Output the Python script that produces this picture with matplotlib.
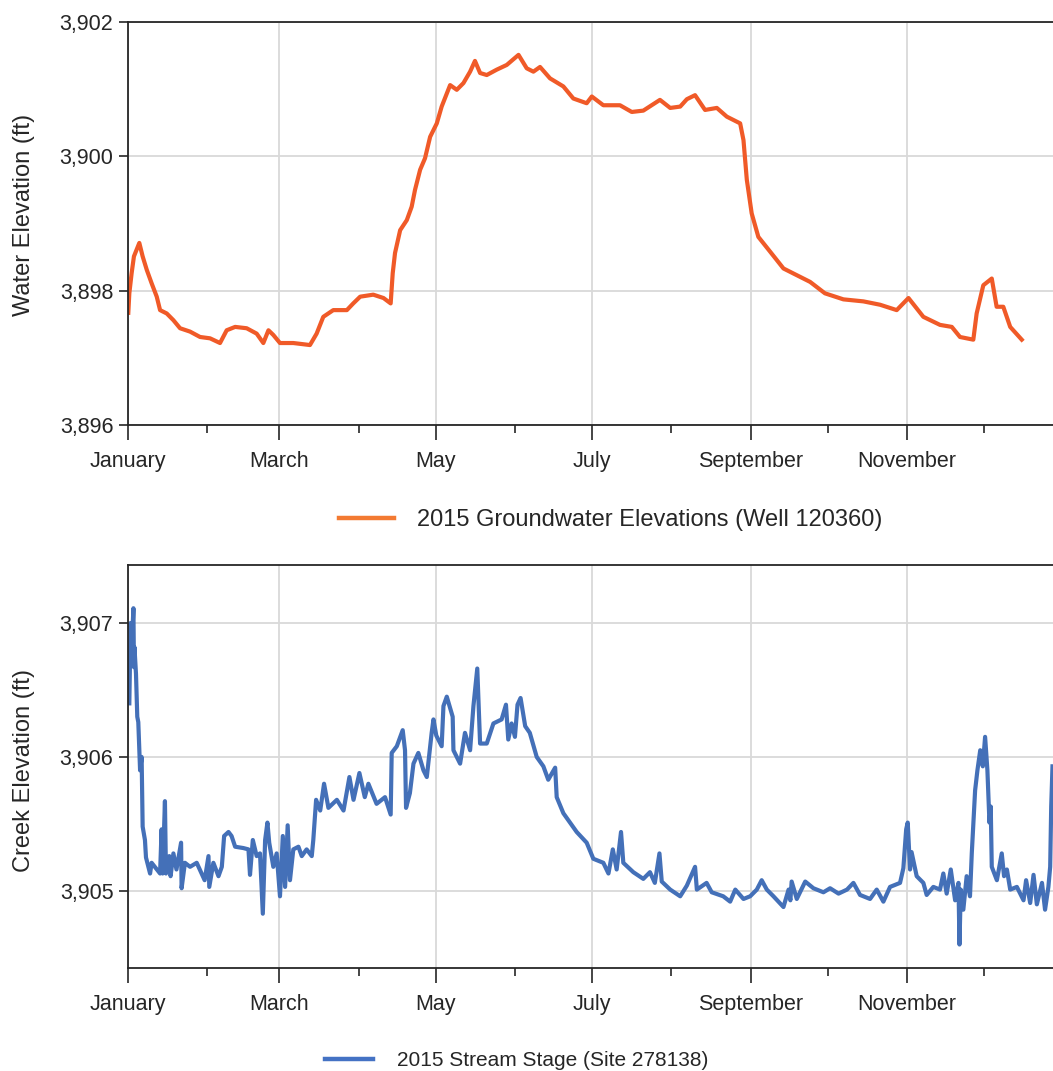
"""
2015 groundwater elevation (well 120360) and stream stage (site 278138)
"""

import numpy as np
from matplotlib import pyplot as plt
import matplotlib.dates as mdates
from matplotlib.ticker import StrMethodFormatter

plt.rcParams['font.family'] = ['Liberation Sans', 'DejaVu Sans']

# --------------------------------------------------------------------------------------------------
# Data (day of year 2015, elevation in ft)
# --------------------------------------------------------------------------------------------------

gw_day = [0.1, 0.5, 1.4, 2.3, 4.4, 5.7, 7.3, 9.2, 11.2, 12.5, 15.1, 17.7, 20.3, 24.2, 28.1, 32.0,
          35.9, 38.5, 41.8, 46.3, 50.2, 52.8, 54.8, 56.7, 59.3, 64.5, 71.0, 73.6, 76.2, 80.1, 85.4,
          87.9, 90.6, 95.7, 99.7, 102.5, 103.3, 104.2, 106.2, 108.8, 110.7, 112.0, 114.0, 115.9,
          117.9, 120.5, 122.4, 125.7, 128.3, 130.9, 133.5, 135.4, 137.4, 140.0, 143.9, 147.8, 152.4,
          155.6, 158.2, 160.8, 164.7, 169.9, 173.8, 179.0, 181.0, 185.5, 192.0, 196.6, 201.1, 207.6,
          211.6, 215.5, 218.1, 221.3, 225.2, 229.8, 233.7, 238.9, 240.2, 241.5, 243.4, 246.0, 250.6,
          255.8, 261.0, 266.2, 272.0, 279.2, 287.0, 293.5, 300.0, 304.6, 310.4, 316.9, 321.5, 324.7,
          329.9, 331.2, 333.8, 337.1, 339.0, 341.6, 344.3, 348.8]
gw_elev = [3897.67, 3897.96, 3898.26, 3898.51, 3898.71, 3898.51, 3898.31, 3898.11, 3897.91, 3897.71,
           3897.66, 3897.56, 3897.44, 3897.39, 3897.31, 3897.29, 3897.22, 3897.41, 3897.46, 3897.44,
           3897.36, 3897.22, 3897.41, 3897.34, 3897.22, 3897.22, 3897.19, 3897.36, 3897.61, 3897.71,
           3897.71, 3897.81, 3897.91, 3897.94, 3897.89, 3897.81, 3898.26, 3898.56, 3898.90, 3899.05,
           3899.25, 3899.50, 3899.80, 3899.97, 3900.29, 3900.49, 3900.74, 3901.06, 3900.99, 3901.09,
           3901.26, 3901.42, 3901.24, 3901.21, 3901.29, 3901.36, 3901.51, 3901.31, 3901.26, 3901.33,
           3901.16, 3901.04, 3900.86, 3900.79, 3900.89, 3900.76, 3900.76, 3900.66, 3900.68, 3900.84,
           3900.72, 3900.74, 3900.85, 3900.91, 3900.69, 3900.72, 3900.59, 3900.49, 3900.24, 3899.65,
           3899.15, 3898.80, 3898.58, 3898.33, 3898.23, 3898.13, 3897.96, 3897.87, 3897.84, 3897.79,
           3897.71, 3897.89, 3897.61, 3897.49, 3897.46, 3897.31, 3897.27, 3897.66, 3898.08, 3898.18,
           3897.76, 3897.76, 3897.46, 3897.27]

# Stream stage, January through June
ss_day_1 = [0.5, 1.0, 1.4, 2.1, 2.3, 2.5, 3.1, 3.6, 4.0, 4.7, 5.3, 5.7, 6.6, 7.0, 8.6, 9.2, 12.5,
            13.1, 13.5, 14.4, 14.8, 16.1, 16.6, 17.7, 18.9, 20.7, 20.9, 22.2, 24.2, 26.8, 28.7, 29.9,
            31.4, 31.7, 33.3, 35.3, 36.6, 37.5, 39.2, 40.4, 41.8, 45.0, 47.0, 47.6, 48.7, 50.2, 51.5,
            52.6, 53.5, 54.4, 55.1, 56.7, 58.0, 59.3, 60.4, 61.3, 62.3, 63.2, 64.5, 66.5, 67.8, 69.7,
            71.7, 72.3, 73.4, 75.0, 76.5, 78.2, 81.5, 84.1, 86.4, 88.0, 90.3, 92.4, 93.8, 97.0, 100.3,
            102.5, 102.9, 104.9, 107.2, 108.1, 108.5, 110.0, 111.4, 113.3, 115.3, 116.6, 118.5, 119.2,
            120.3, 122.4, 123.1, 124.4, 126.7, 127.0, 129.6, 131.5, 133.5, 134.8, 136.3, 137.4, 140.0,
            142.6, 145.8, 147.5, 148.4, 149.7, 151.0, 152.0, 153.2, 155.0, 156.8, 159.5, 162.1, 164.0,
            166.7, 167.3, 169.9, 172.5, 175.1, 179.0]
ss_elev_1 = [3906.40, 3907.00, 3906.80, 3907.11, 3906.67, 3906.82, 3906.62, 3906.30, 3906.26,
             3905.90, 3906.00, 3905.48, 3905.38, 3905.25, 3905.13, 3905.21, 3905.13, 3905.46,
             3905.13, 3905.67, 3905.13, 3905.26, 3905.11, 3905.28, 3905.16, 3905.36, 3905.02,
             3905.21, 3905.18, 3905.21, 3905.13, 3905.08, 3905.26, 3905.03, 3905.21, 3905.11,
             3905.18, 3905.41, 3905.44, 3905.41, 3905.33, 3905.32, 3905.31, 3905.12, 3905.38,
             3905.26, 3905.28, 3904.83, 3905.38, 3905.51, 3905.36, 3905.18, 3905.28, 3904.96,
             3905.41, 3905.03, 3905.49, 3905.08, 3905.31, 3905.33, 3905.26, 3905.31, 3905.26,
             3905.38, 3905.68, 3905.60, 3905.80, 3905.62, 3905.68, 3905.60, 3905.85, 3905.68,
             3905.88, 3905.70, 3905.80, 3905.65, 3905.70, 3905.57, 3906.03, 3906.08, 3906.20,
             3906.05, 3905.62, 3905.73, 3905.95, 3906.03, 3905.90, 3905.85, 3906.18, 3906.28,
             3906.16, 3906.08, 3906.38, 3906.45, 3906.30, 3906.05, 3905.95, 3906.18, 3906.05,
             3906.38, 3906.66, 3906.10, 3906.10, 3906.25, 3906.28, 3906.39, 3906.13, 3906.25,
             3906.15, 3906.39, 3906.44, 3906.23, 3906.18, 3906.00, 3905.93, 3905.83, 3905.92,
             3905.70, 3905.58, 3905.51, 3905.44, 3905.36]

# Stream stage, July through October
ss_day_2 = [181.6, 185.5, 187.5, 189.2, 190.7, 192.4, 193.3, 197.2, 201.1, 203.7, 205.6, 207.4,
            208.3, 211.6, 215.5, 218.1, 221.3, 222.0, 225.8, 227.8, 232.3, 235.0, 237.0, 240.2,
            242.8, 245.4, 247.3, 249.3, 251.9, 255.8, 257.8, 258.5, 259.0, 261.0, 264.3, 267.5,
            271.4, 274.0, 277.3, 280.6, 283.1, 285.7, 289.6, 292.2, 294.8, 297.4, 301.3, 302.6, 303.7]
ss_elev_2 = [3905.24, 3905.21, 3905.13, 3905.31, 3905.16, 3905.44, 3905.21, 3905.14, 3905.09,
             3905.14, 3905.06, 3905.28, 3905.07, 3905.01, 3904.96, 3905.04, 3905.18, 3905.01,
             3905.06, 3904.99, 3904.96, 3904.92, 3905.01, 3904.94, 3904.96, 3905.01, 3905.08,
             3905.01, 3904.96, 3904.88, 3905.01, 3904.93, 3905.07, 3904.94, 3905.07, 3905.02,
             3904.99, 3905.02, 3904.98, 3905.01, 3905.06, 3904.97, 3904.94, 3905.01, 3904.92,
             3905.03, 3905.06, 3905.17, 3905.46]

# Stream stage, November and December
ss_day_3 = [304.3, 305.2, 305.8, 307.8, 310.4, 311.7, 314.3, 316.9, 318.2, 319.5, 321.1, 322.8,
            324.1, 324.5, 325.0, 326.0, 327.3, 328.6, 329.3, 330.6, 331.5, 332.6, 333.6, 334.5,
            335.4, 336.2, 336.7, 337.1, 339.1, 341.0, 341.9, 343.0, 344.3, 346.9, 349.5, 350.5,
            352.1, 353.4, 354.7, 356.7, 357.9, 359.2, 359.9, 360.3, 360.8]
ss_elev_3 = [3905.51, 3905.16, 3905.29, 3905.11, 3905.06, 3904.97, 3905.03, 3905.01, 3905.13,
             3904.98, 3905.16, 3904.93, 3905.06, 3904.60, 3905.01, 3904.86, 3905.11, 3904.96,
             3905.28, 3905.75, 3905.90, 3906.05, 3905.93, 3906.15, 3905.90, 3905.51, 3905.63,
             3905.18, 3905.08, 3905.28, 3905.11, 3905.16, 3905.01, 3905.03, 3904.93, 3905.08,
             3904.91, 3905.12, 3904.90, 3905.06, 3904.86, 3905.03, 3905.18, 3905.63, 3905.93]

gw_label = '2015 Groundwater Elevations (Well 120360)'
ss_label = '2015 Stream Stage (Site 278138)'

ss_day = ss_day_1 + ss_day_2 + ss_day_3
ss_elev = ss_elev_1 + ss_elev_2 + ss_elev_3


def to_dates(days):
    minutes = (np.asarray(days) * 24 * 60).astype('timedelta64[m]')
    return np.datetime64('2015-01-01T00:00') + minutes


# --------------------------------------------------------------------------------------------------
# Plot
# --------------------------------------------------------------------------------------------------

fig = plt.figure(figsize=(10.53, 10.71), dpi=100)
ax_top = fig.add_axes([0.1216, 0.6032, 0.8784, 0.3763])
ax_bot = fig.add_axes([0.1216, 0.0962, 0.8784, 0.3763])

text_color = '#262626'
x_start = np.datetime64('2015-01-01')
x_end = to_dates([361.0])[0]


def style_axis(ax, ylim, yticks, ylabel, label_y):
    ax.set_xlim(x_start, x_end)
    ax.set_ylim(*ylim)
    ax.set_yticks(yticks)
    ax.yaxis.set_major_formatter(StrMethodFormatter('{x:,.0f}'))
    ax.xaxis.set_major_locator(mdates.MonthLocator(bymonth=[1, 3, 5, 7, 9, 11]))
    ax.xaxis.set_minor_locator(mdates.MonthLocator(bymonth=[2, 4, 6, 8, 10, 12]))
    ax.xaxis.set_major_formatter(mdates.DateFormatter('%B'))
    ax.grid(True, which='major', color='#d9d9d9', linewidth=1.3)
    ax.set_axisbelow(True)
    for side in ['left', 'bottom', 'top']:
        ax.spines[side].set_color(text_color)
        ax.spines[side].set_linewidth(1.3)
    ax.spines['right'].set_visible(False)
    ax.tick_params(axis='y', which='major', length=6.5, width=1.2, pad=4,
                   labelsize=15.5, colors=text_color)
    ax.tick_params(axis='x', which='major', length=11, width=1.2, pad=8,
                   labelsize=15.5, colors=text_color)
    ax.tick_params(axis='x', which='minor', length=6, width=1.2, colors=text_color)
    ax.set_ylabel(ylabel, fontsize=17, color=text_color)
    ax.yaxis.set_label_coords(-0.101, label_y)


ax_top.plot(to_dates(gw_day), gw_elev, color='#f05a28', linewidth=3.0, label=gw_label)
style_axis(ax_top, (3896, 3902), [3896, 3898, 3900, 3902], 'Water Elevation (ft)', 0.52)

ax_bot.plot(to_dates(ss_day), ss_elev, color='#4470b8', linewidth=3.0, label=ss_label)
style_axis(ax_bot, (3904.425, 3907.433), [3905, 3906, 3907], 'Creek Elevation (ft)', 0.49)

# Legends sit under each panel
leg_top = fig.legend(handles=ax_top.get_lines(), loc='center', bbox_to_anchor=(0.5797, 0.5145),
                     frameon=False, fontsize=17, handlelength=2.33, handletextpad=0.98)
leg_top.get_lines()[0].set_color('#f37a32')
leg_top.get_lines()[0].set_linewidth(3.2)

leg_bot = fig.legend(handles=ax_bot.get_lines(), loc='center', bbox_to_anchor=(0.4905, 0.0095),
                     frameon=False, fontsize=15, handlelength=2.3, handletextpad=1.15)
leg_bot.get_lines()[0].set_color('#4472c4')
leg_bot.get_lines()[0].set_linewidth(3.2)

for leg in (leg_top, leg_bot):
    for t in leg.get_texts():
        t.set_color(text_color)

fig.savefig('out.png', dpi=100)
